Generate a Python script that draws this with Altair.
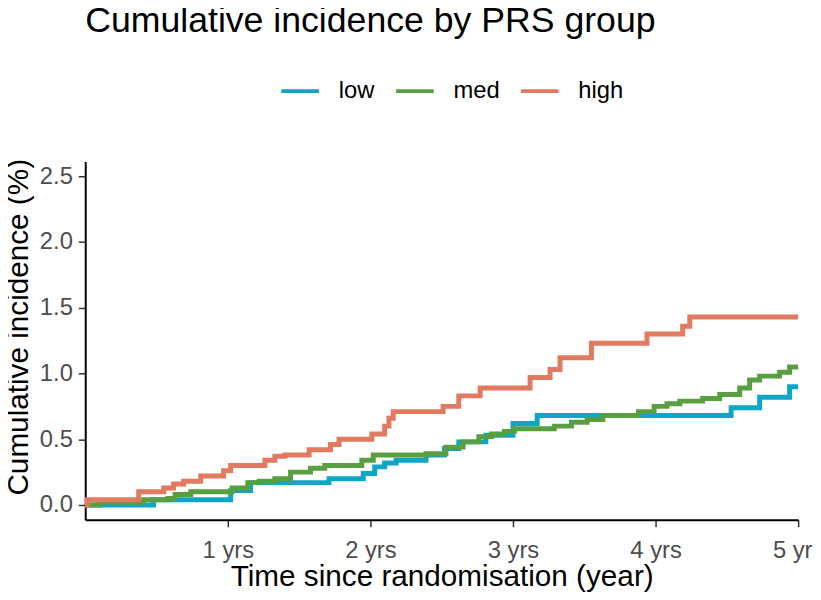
import altair as alt
import pandas as pd

title_text = "Cumulative incidence by PRS group"
groups = ["low", "med", "high"]
colors = ["#0EA5C7", "#5A9E42", "#E27A5F"]

low_t = [0, 0.48, 1.02, 1.16, 1.71, 1.95, 2.03, 2.10, 2.18, 2.39, 2.52, 2.62, 2.81, 3.00, 3.17, 4.53, 4.73, 4.94, 5.0]
low_v = [0, 0.04, 0.11, 0.17, 0.20, 0.24, 0.29, 0.32, 0.34, 0.38, 0.43, 0.48, 0.53, 0.62, 0.68, 0.74, 0.82, 0.90, 0.90]

med_t = [0, 0.10, 0.41, 0.58, 0.63, 0.74, 1.03, 1.14, 1.22, 1.33, 1.44, 1.58, 1.68, 1.94,
         2.02, 2.39, 2.53, 2.65, 2.76, 2.85, 2.94, 3.01, 3.29, 3.41, 3.52, 3.63, 3.88, 3.99,
         4.08, 4.17, 4.33, 4.45, 4.59, 4.66, 4.73, 4.87, 4.94, 5.0]
med_v = [0, 0.02, 0.04, 0.05, 0.08, 0.10, 0.13, 0.17, 0.18, 0.20, 0.25, 0.28, 0.30, 0.34,
         0.38, 0.39, 0.44, 0.48, 0.52, 0.54, 0.56, 0.58, 0.60, 0.63, 0.65, 0.68, 0.71, 0.75,
         0.77, 0.79, 0.81, 0.84, 0.89, 0.95, 0.98, 1.01, 1.05, 1.05]

high_t = [0, 0.014, 0.375, 0.55, 0.62, 0.69, 0.81, 0.97, 1.02, 1.26, 1.33, 1.40, 1.57, 1.72, 1.78,
          2.01, 2.10, 2.13, 2.16, 2.51, 2.62, 2.77, 3.12, 3.26, 3.33, 3.55, 3.94, 4.19, 4.24, 5.0]
high_v = [0, 0.04, 0.10, 0.13, 0.16, 0.18, 0.22, 0.26, 0.30, 0.34, 0.37, 0.38, 0.42, 0.46, 0.50,
          0.54, 0.60, 0.66, 0.71, 0.75, 0.83, 0.89, 0.97, 1.03, 1.12, 1.23, 1.30, 1.36, 1.43, 1.43]

y_ticks = [0, 0.5, 1.0, 1.5, 2.0, 2.5]
x_ticks = [1, 2, 3, 4, 5]

rows = []
for g, ts, vs in [("low", low_t, low_v), ("med", med_t, med_v), ("high", high_t, high_v)]:
    for t, v in zip(ts, vs):
        rows.append({"time": t, "inc": v, "group": g})
df = pd.DataFrame(rows)

FONT = "Liberation Sans"

lines = alt.Chart(df).mark_line(
    interpolate="step-after", strokeWidth=5, strokeCap="butt"
).encode(
    x=alt.X("time:Q",
            scale=alt.Scale(domain=[0, 5], nice=False, zero=False),
            axis=alt.Axis(values=x_ticks, labelExpr="datum.value + ' yrs'",
                          title="Time since randomisation (year)",
                          labelFlush=False,
                          labelBaseline="alphabetic", labelPadding=31,
                          titleBaseline="alphabetic", titleY=66, titleX=360)),
    y=alt.Y("inc:Q",
            scale=alt.Scale(domain=[-0.113, 2.613], nice=False, zero=False),
            axis=alt.Axis(values=y_ticks, format=".1f",
                          title="Cumulative incidence (%)",
                          labelPadding=6, labelFlush=False,
                          titleAngle=270, titleBaseline="alphabetic",
                          titleX=-58, titleY=167, titleAlign="center")),
    color=alt.Color("group:N",
                    scale=alt.Scale(domain=groups, range=colors),
                    legend=alt.Legend(orient="none", direction="horizontal",
                                      legendX=196, legendY=-92, title=None,
                                      symbolType="stroke", symbolSize=1444,
                                      symbolStrokeWidth=4, labelOffset=18,
                                      columnPadding=13, padding=0,
                                      labelFontSize=24, labelFont=FONT,
                                      labelColor="#000000")),
)

title = alt.Chart(pd.DataFrame({"t": [title_text]})).mark_text(
    align="left", baseline="alphabetic", fontSize=36, font=FONT, color="#000000"
).encode(
    x=alt.value(0), y=alt.value(-131), text="t:N"
)

chart = alt.layer(lines, title).properties(
    width=720, height=362,
    autosize=alt.AutoSizeParams(type="none"),
    padding={"left": 78, "top": 152, "right": 15, "bottom": 78},
).configure_view(
    stroke=None
).configure_axis(
    grid=False,
    domainColor="#000000", domainWidth=2,
    tickColor="#333333", tickWidth=1.5, tickSize=7,
    labelFont=FONT, labelFontSize=24, labelColor="#4D4D4D",
    titleFont=FONT, titleFontSize=30, titleColor="#000000", titleFontWeight="normal",
)

chart.save("out.html", embed_options={"renderer": "svg", "actions": False})
